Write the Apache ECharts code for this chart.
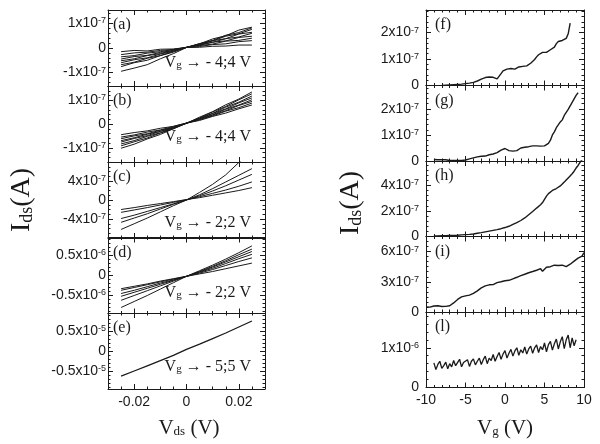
<!DOCTYPE html>
<html><head><meta charset="utf-8">
<script src="https://cdn.jsdelivr.net/npm/echarts@6/dist/echarts.min.js"></script>
<style>html,body{margin:0;padding:0;background:#fff}#c{width:600px;height:444px}</style>
</head><body><div id="c"></div>
<script>
// ---------------- DATA ----------------
// Left column: I_ds vs V_ds, values in units of the panel's exponent
const vds = [-0.025,-0.02,-0.015,-0.01,-0.005,0,0.005,0.01,0.015,0.02,0.025];
const aLines = [ // x1e-7
  [-0.15,-0.10,-0.12,-0.05,-0.04,0.02,0.03,0.07,0.08,0.12,0.12],
  [-0.27,-0.20,-0.17,-0.10,-0.06,0.02,0.06,0.14,0.17,0.26,0.30],
  [-0.36,-0.31,-0.21,-0.15,-0.06,0.03,0.10,0.16,0.28,0.31,0.40],
  [-0.45,-0.35,-0.30,-0.18,-0.10,0.03,0.11,0.24,0.29,0.43,0.48],
  [-0.52,-0.44,-0.31,-0.23,-0.09,0.02,0.14,0.23,0.38,0.45,0.60],
  [-0.60,-0.48,-0.40,-0.25,-0.13,0.03,0.13,0.30,0.38,0.57,0.64],
  [-0.68,-0.58,-0.42,-0.31,-0.14,0.02,0.17,0.29,0.48,0.58,0.76],
  [-0.76,-0.60,-0.50,-0.31,-0.17,0.03,0.17,0.37,0.50,0.73,0.85],
  [-0.95,-0.82,-0.68,-0.44,-0.23,0.02,0.18,0.31,0.52,0.63,0.82]
];
const bLines = [ // x1e-7
  [-0.45,-0.36,-0.29,-0.18,-0.10,0.04,0.15,0.32,0.46,0.64,0.80],
  [-0.55,-0.46,-0.34,-0.25,-0.10,0.04,0.19,0.34,0.54,0.69,0.88],
  [-0.62,-0.50,-0.41,-0.26,-0.14,0.03,0.18,0.38,0.56,0.78,0.95],
  [-0.70,-0.58,-0.43,-0.31,-0.14,0.03,0.22,0.39,0.62,0.80,1.02],
  [-0.76,-0.61,-0.49,-0.31,-0.17,0.04,0.22,0.44,0.64,0.89,1.10],
  [-0.84,-0.70,-0.52,-0.37,-0.17,0.03,0.25,0.45,0.71,0.92,1.18],
  [-0.92,-0.75,-0.59,-0.38,-0.20,0.04,0.25,0.51,0.74,1.02,1.27],
  [-1.02,-0.85,-0.63,-0.44,-0.20,0.03,0.29,0.52,0.81,1.05,1.35]
];
const cLines = [ // x1e-7
  [-2.0,-1.6,-1.15,-0.75,-0.35,0.1,0.5,1.0,1.5,2.0,2.6],
  [-2.6,-2.1,-1.6,-1.05,-0.5,0.05,0.7,1.4,2.1,2.9,3.8],
  [-3.9,-3.2,-2.4,-1.6,-0.8,0.0,0.9,1.9,3.0,4.2,5.4],
  [-4.7,-3.8,-2.9,-1.9,-0.9,0.0,1.1,2.4,3.8,5.2,6.6],
  [-6.2,-5.0,-3.8,-2.5,-1.2,0.0,1.6,3.3,5.3,7.9,9.9]
];
const dLines = [ // x1e-6
  [-0.33,-0.27,-0.21,-0.14,-0.08,-0.02,0.04,0.10,0.17,0.24,0.31],
  [-0.37,-0.30,-0.23,-0.16,-0.09,-0.02,0.06,0.15,0.25,0.35,0.44],
  [-0.45,-0.37,-0.28,-0.19,-0.11,-0.02,0.08,0.18,0.30,0.42,0.53],
  [-0.52,-0.42,-0.32,-0.22,-0.12,-0.02,0.09,0.21,0.34,0.47,0.60],
  [-0.62,-0.50,-0.38,-0.26,-0.14,-0.02,0.10,0.23,0.37,0.52,0.66],
  [-0.80,-0.65,-0.50,-0.34,-0.18,-0.02,0.12,0.26,0.41,0.57,0.74]
];
const eLines = [ // x1e-5
  [-0.63,-0.50,-0.37,-0.24,-0.11,0.04,0.17,0.31,0.45,0.60,0.75]
];

// Right column: I_ds vs V_g
const vg = [-10,-9.75,-9.5,-9.25,-9,-8.75,-8.5,-8.25,-8,-7.75,-7.5,-7.25,-7,-6.75,-6.5,-6.25,-6,-5.75,-5.5,-5.25,-5,-4.75,-4.5,-4.25,-4,-3.75,-3.5,-3.25,-3,-2.75,-2.5,-2.25,-2,-1.75,-1.5,-1.25,-1,-0.75,-0.5,-0.25,0,0.25,0.5,0.75,1,1.25,1.5,1.75,2,2.25,2.5,2.75,3,3.25,3.5,3.75,4,4.25,4.5,4.75,5,5.25,5.5,5.75,6,6.25,6.5,6.75,7,7.25,7.5,7.75,8,8.25,8.5,8.75,9,9.25,9.5,9.75,10];
const fStart = -8;   // x1e-7
const fVals = [0.00,0.01,0.01,0.02,0.02,0.03,0.03,0.04,0.04,0.05,
  0.05,0.06,0.07,0.08,0.09,0.10,0.12,0.15,0.17,0.20,
  0.24,0.27,0.30,0.33,0.32,0.30,0.31,0.27,0.25,0.30,
  0.45,0.55,0.58,0.62,0.57,0.64,0.68,0.62,0.66,0.70,
  0.67,0.72,0.76,0.74,0.80,0.84,0.90,0.98,1.08,1.16,
  1.22,1.25,1.28,1.25,1.32,1.35,1.38,1.45,1.58,1.66,
  1.62,1.70,1.66,1.78,1.95,2.35];
const gStart = -9;   // x1e-7
const gVals = [0.06,0.07,0.05,0.06,0.05,0.04,0.05,0.03,0.02,0.03,
  0.02,0.01,0.02,0.01,0.02,0.03,0.04,0.06,0.08,0.10,
  0.12,0.14,0.16,0.17,0.18,0.20,0.19,0.22,0.24,0.23,
  0.27,0.26,0.32,0.36,0.42,0.38,0.48,0.44,0.40,0.46,
  0.38,0.32,0.40,0.45,0.50,0.47,0.53,0.58,0.55,0.60,
  0.58,0.62,0.58,0.55,0.57,0.60,0.58,0.62,0.68,0.80,
  1.00,1.12,1.28,1.22,1.50,1.58,1.75,1.70,1.98,2.05,
  2.25,2.30,2.52,2.62];
const hStart = -9;   // x1e-7
const hVals = [0.05,0.06,0.05,0.07,0.06,0.08,0.07,0.09,0.08,0.10,
  0.09,0.11,0.10,0.12,0.13,0.12,0.15,0.14,0.17,0.19,
  0.20,0.22,0.25,0.27,0.30,0.33,0.36,0.39,0.42,0.44,
  0.48,0.50,0.54,0.58,0.61,0.65,0.70,0.74,0.80,0.88,
  0.95,1.00,1.08,1.15,1.25,1.35,1.45,1.55,1.70,1.82,
  1.95,2.10,2.22,2.35,2.48,2.65,2.90,3.15,3.35,3.50,
  3.60,3.68,3.75,3.85,3.95,4.10,4.25,4.42,4.58,4.72,
  4.90,5.10,5.35,5.55,5.80,6.00];
const iStart = -10;  // x1e-7
const iVals = [0.50,0.55,0.48,0.56,0.60,0.55,0.62,0.58,0.55,0.60,
  0.56,0.58,0.62,0.75,0.90,1.05,1.25,1.40,1.50,1.55,
  1.60,1.58,1.68,1.75,1.85,1.95,2.10,2.25,2.40,2.50,
  2.60,2.65,2.70,2.75,2.72,2.85,2.92,2.88,3.00,3.05,
  3.10,3.02,3.15,3.25,3.30,3.38,3.45,3.55,3.62,3.70,
  3.75,3.82,3.90,3.95,4.02,4.10,4.15,4.22,4.30,4.05,
  4.20,4.45,4.55,4.50,4.60,4.65,4.70,4.62,4.58,4.65,
  4.55,4.50,4.60,4.75,4.90,5.05,5.20,5.35,5.45,5.55,
  5.90];
const lStart = -9;   // x1e-6
const lVals = [0.62,0.45,0.58,0.66,0.48,0.55,0.64,0.47,0.60,0.52,
  0.68,0.55,0.60,0.71,0.52,0.63,0.58,0.70,0.53,0.66,
  0.72,0.57,0.66,0.74,0.58,0.70,0.79,0.60,0.74,0.68,
  0.83,0.66,0.78,0.88,0.71,0.84,0.93,0.74,0.86,0.96,
  0.79,0.92,1.00,0.81,0.95,0.87,1.02,0.84,0.97,1.04,
  0.86,1.00,1.07,0.88,1.03,0.95,1.12,0.90,1.08,1.16,
  0.94,1.10,1.22,0.97,1.15,1.28,0.98,1.20,1.32,1.00,
  1.25,1.05,1.20];

// tick labels
const vdsTicks = [-0.02, 0, 0.02];
const vgTicks = [-10, -5, 0, 5, 10];
const aTicks = [-1, 0, 1], bTicks = [-1, 0, 1], cTicks = [-4, 0, 4];
const dTicks = [-0.5, 0, 0.5], eTicks = [-0.5, 0, 0.5];
const fTicks = [0, 1, 2], gTicks = [0, 1, 2], hTicks = [0, 2, 4], iTicks = [0, 3, 6], lTicks = [0, 1];

// ---------------- LAYOUT ----------------
const LF = '"Liberation Sans", Arial, sans-serif';
const SF = '"Liberation Serif", "Times New Roman", serif';
const INK = '#1a1a1a';

const leftTops = [10, 86, 162, 237.5, 313], leftH = 76;
const rightTops = [10, 85.5, 161, 236.5, 312], rightH = 75.5;

function slice(start, vals) {
  const i0 = vg.indexOf(start);
  return vals.map((v, i) => [vg[i0 + i], v]);
}
function pairs(xs, ys) { return ys.map((y, i) => [xs[i], y]); }

const panels = [
  {tag:'(a)', gl:108, gw:157, gt:leftTops[0], gh:leftH, xmin:-0.03, xmax:0.03, xMajor:vdsTicks, xMinorStep:0.005,
   ymin:-1.55, ymax:1.55, yMajor:aTicks, yMinorStep:0.2, exp:'-7', lines:aLines.map(l=>pairs(vds,l)), note:'- 4;4 V', noteY:53, lblMargin:2, lw:1},
  {tag:'(b)', gl:108, gw:157, gt:leftTops[1], gh:leftH, xmin:-0.03, xmax:0.03, xMajor:vdsTicks, xMinorStep:0.005,
   ymin:-1.6, ymax:1.6, yMajor:bTicks, yMinorStep:0.2, exp:'-7', lines:bLines.map(l=>pairs(vds,l)), note:'- 4;4 V', noteY:51, lblMargin:2, lw:1},
  {tag:'(c)', gl:108, gw:157, gt:leftTops[2], gh:leftH, xmin:-0.03, xmax:0.03, xMajor:vdsTicks, xMinorStep:0.005,
   ymin:-8, ymax:8, yMajor:cTicks, yMinorStep:1, exp:'-7', lines:cLines.map(l=>pairs(vds,l)), note:'- 2;2 V', noteY:61, lblMargin:2, lw:1},
  {tag:'(d)', gl:108, gw:157, gt:leftTops[3], gh:leftH, xmin:-0.03, xmax:0.03, xMajor:vdsTicks, xMinorStep:0.005,
   ymin:-0.95, ymax:0.95, yMajor:dTicks, yMinorStep:0.1, exp:'-6', lines:dLines.map(l=>pairs(vds,l)), note:'- 2;2 V', noteY:55, lblMargin:2, lw:1},
  {tag:'(e)', gl:108, gw:157, gt:leftTops[4], gh:leftH, xmin:-0.03, xmax:0.03, xMajor:vdsTicks, xMinorStep:0.005,
   ymin:-0.95, ymax:0.95, yMajor:eTicks, yMinorStep:0.1, exp:'-5', lines:eLines.map(l=>pairs(vds,l)), note:'- 5;5 V', noteY:54, lblMargin:2, lw:1.3, last:true},
  {tag:'(f)', gl:426, gw:158, gt:rightTops[0], gh:rightH, xmin:-10, xmax:10, xMajor:vgTicks, xMinorStep:1,
   ymin:0, ymax:2.85, yMajor:fTicks, yMinorStep:0.2, exp:'-7', lines:[slice(fStart,fVals)], lblMargin:7, tagDx:9, lw:1.4},
  {tag:'(g)', gl:426, gw:158, gt:rightTops[1], gh:rightH, xmin:-10, xmax:10, xMajor:vgTicks, xMinorStep:1,
   ymin:0, ymax:2.9, yMajor:gTicks, yMinorStep:0.2, exp:'-7', lines:[slice(gStart,gVals)], lblMargin:7, tagDx:9, lw:1.4},
  {tag:'(h)', gl:426, gw:158, gt:rightTops[2], gh:rightH, xmin:-10, xmax:10, xMajor:vgTicks, xMinorStep:1,
   ymin:0, ymax:5.9, yMajor:hTicks, yMinorStep:0.4, exp:'-7', lines:[slice(hStart,hVals)], lblMargin:7, tagDx:9, lw:1.4},
  {tag:'(i)', gl:426, gw:158, gt:rightTops[3], gh:rightH, xmin:-10, xmax:10, xMajor:vgTicks, xMinorStep:1,
   ymin:0, ymax:7.5, yMajor:iTicks, yMinorStep:0.5, exp:'-7', lines:[slice(iStart,iVals)], lblMargin:7, tagDx:9, lw:1.4},
  {tag:'(l)', gl:426, gw:158, gt:rightTops[4], gh:rightH, xmin:-10, xmax:10, xMajor:vgTicks, xMinorStep:1,
   ymin:0, ymax:1.9, yMajor:lTicks, yMinorStep:0.2, exp:'-6', lines:[slice(lStart,lVals)], lblMargin:7, tagDx:9, lw:1.3, last:true}
];

function stepTicks(min, max, step) {
  const out = [];
  for (let k = Math.ceil(min / step - 1e-9); k * step <= max + 1e-9; k++) out.push(+(k * step).toFixed(6));
  return out;
}

const grids = [], xAxes = [], yAxes = [], series = [], graphics = [];

panels.forEach((p, gi) => {
  grids.push({left: p.gl, top: p.gt, width: p.gw, height: p.gh, containLabel: false});
  const xMinor = stepTicks(p.xmin, p.xmax, p.xMinorStep);
  const yMinor = stepTicks(p.ymin, p.ymax, p.yMinorStep);
  const xi = xAxes.length, yi = yAxes.length;
  const base = (min, max) => ({type:'value', gridIndex:gi, min, max, splitLine:{show:false}, silent:true});
  ['bottom','top'].forEach(pos => {
    xAxes.push(Object.assign(base(p.xmin, p.xmax), {position:pos,
      axisLine:{show:true, onZero:false, lineStyle:{color:INK, width:1}},
      axisTick:{show:true, inside:true, length:5, customValues:p.xMajor, lineStyle:{color:INK, width:1}},
      axisLabel:{show: pos==='bottom' && !!p.last, customValues:p.xMajor, fontFamily:LF, fontSize:14, color:INK, margin:6,
        formatter: v => String(v)}}));
    xAxes.push(Object.assign(base(p.xmin, p.xmax), {position:pos,
      axisLine:{show:false, onZero:false},
      axisTick:{show:true, inside:true, length:2.5, customValues:xMinor, lineStyle:{color:INK, width:1}},
      axisLabel:{show:false}}));
  });
  ['left','right'].forEach(pos => {
    yAxes.push(Object.assign(base(p.ymin, p.ymax), {position:pos,
      axisLine:{show:true, onZero:false, lineStyle:{color:INK, width:1}},
      axisTick:{show:true, inside:true, length:5, customValues:p.yMajor, lineStyle:{color:INK, width:1}},
      axisLabel:{show: pos==='left', customValues:p.yMajor, margin:p.lblMargin,
        formatter: v => v === 0 ? '{n|0}' : '{n|' + v + 'x10}{s|' + p.exp + '}',
        rich:{ n:{fontFamily:LF, fontSize:14, color:INK}, s:{fontFamily:LF, fontSize:9, color:INK, verticalAlign:'top'} }}}));
    yAxes.push(Object.assign(base(p.ymin, p.ymax), {position:pos,
      axisLine:{show:false, onZero:false},
      axisTick:{show:true, inside:true, length:2.5, customValues:yMinor, lineStyle:{color:INK, width:1}},
      axisLabel:{show:false}}));
  });
  p.lines.forEach(d => series.push({type:'line', xAxisIndex:xi, yAxisIndex:yi, data:d, showSymbol:false, symbol:'none',
    lineStyle:{color:INK, width:p.lw}, clip:true, silent:true, animation:false}));
  // panel tag
  graphics.push({type:'text', x: p.gl + (p.tagDx || 5), y: p.gt + 15, silent:true,
    style:{text:p.tag, font:'16px ' + SF, fill:INK, verticalAlign:'middle', textVerticalAlign:'middle'}});
  if (p.note) {
    graphics.push({type:'text', x: p.gl + p.gw - 14, y: p.gt + p.noteY, silent:true,
      style:{text:'{t|V}{g|g}{t| \u2192 ' + p.note + '}', align:'right', textAlign:'right', verticalAlign:'middle', textVerticalAlign:'middle',
        rich:{t:{font:'16px ' + SF, fill:INK}, g:{font:'11px ' + SF, fill:INK, verticalAlign:'bottom'}}}});
  }
});

// axis titles
function title(x, y, main, sub, rest, size, subSize, rot) {
  graphics.push({type:'text', x, y, rotation: rot || 0, silent:true,
    style:{text:'{m|' + main + '}{s|' + sub + '}{m|' + rest + '}', align:'center', textAlign:'center', verticalAlign:'middle', textVerticalAlign:'middle',
      rich:{m:{font: size + 'px ' + SF, fill:INK}, s:{font: subSize + 'px ' + SF, fill:INK, verticalAlign:'bottom'}}}});
}
title(22, 200, 'I', 'ds', '(A)', 28, 18, Math.PI / 2);
title(351, 203, 'I', 'ds', '(A)', 28, 18, Math.PI / 2);
title(189, 428, 'V', 'ds', ' (V)', 21, 13);
title(505, 428, 'V', 'g', ' (V)', 21, 13);

const chart = echarts.init(document.getElementById('c'), null, {renderer:'canvas'});
chart.setOption({animation:false, backgroundColor:'#fff', grid:grids, xAxis:xAxes, yAxis:yAxes, series, graphic:graphics});
</script></body></html>
